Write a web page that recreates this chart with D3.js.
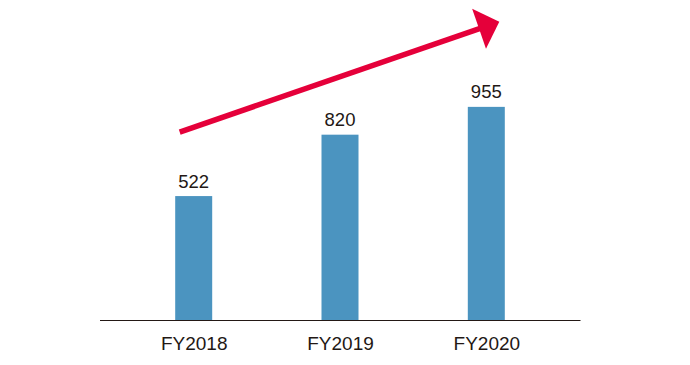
<!DOCTYPE html>
<html>
<head>
<meta charset="utf-8">
<title>FY sales</title>
<script src="https://cdn.jsdelivr.net/npm/d3@7/dist/d3.min.js"></script>
<style>
  body { margin: 0; background: #fff; }
  text { font-family: "Liberation Sans", Arial, Helvetica, sans-serif; fill: #231815; }
</style>
</head>
<body>
<svg id="chart" width="690" height="365"></svg>
<script>
// data
const years = ["FY2018", "FY2019", "FY2020"];
const values = [522, 820, 955];

const svg = d3.select("#chart");
const baseY = 320.5;

// scales
const x = d3.scalePoint().domain(years).range([193.7, 486.3]);
const y = d3.scaleLinear().domain([-82, 1000]).range([baseY, 97.6]);
const barW = 37;

// bars
svg.append("g")
  .selectAll("rect")
  .data(values)
  .join("rect")
    .attr("x", (d, i) => x(years[i]) - barW / 2)
    .attr("y", d => y(d))
    .attr("width", barW)
    .attr("height", d => baseY - y(d))
    .attr("fill", "#4b94c0");

// value labels
svg.append("g")
  .selectAll("text")
  .data(values)
  .join("text")
    .attr("x", (d, i) => x(years[i]))
    .attr("y", d => y(d) - 8.5)
    .attr("text-anchor", "middle")
    .style("font-size", "18.5px")
    .text(d => d);

// baseline
svg.append("line")
  .attr("x1", 100).attr("x2", 580.5)
  .attr("y1", baseY).attr("y2", baseY)
  .attr("stroke", "#231815")
  .attr("stroke-width", 1.2);

// category axis
const ax = svg.append("g")
  .attr("transform", `translate(0,${baseY})`)
  .call(d3.axisBottom(x).tickSize(0));
ax.select(".domain").remove();
ax.selectAll("text")
  .attr("y", 29.5)
  .attr("dy", 0)
  .style("font-size", "19px")
  .style("font-family", "'Liberation Sans', Arial, Helvetica, sans-serif")
  .attr("fill", "#231815");

// growth arrow (decoration)
const x0 = x(years[0]) - 14, y0 = y(values[0]) - 64;
const tipX = x(years[2]) + 13, tipY = 21.7;
const ang = Math.atan2(tipY - y0, tipX - x0);
const headLen = 21.4, headHalf = 21.2;
const bx = tipX - headLen * Math.cos(ang), by = tipY - headLen * Math.sin(ang);

svg.append("line")
  .attr("x1", x0).attr("y1", y0)
  .attr("x2", bx + 2 * Math.cos(ang)).attr("y2", by + 2 * Math.sin(ang))
  .attr("stroke", "#e5003a")
  .attr("stroke-width", 5.5);

svg.append("path")
  .attr("d", d3.line()([
    [tipX, tipY],
    [bx - headHalf * Math.sin(ang), by + headHalf * Math.cos(ang)],
    [bx + headHalf * Math.sin(ang), by - headHalf * Math.cos(ang)]
  ]) + "Z")
  .attr("fill", "#e5003a");
</script>
</body>
</html>
